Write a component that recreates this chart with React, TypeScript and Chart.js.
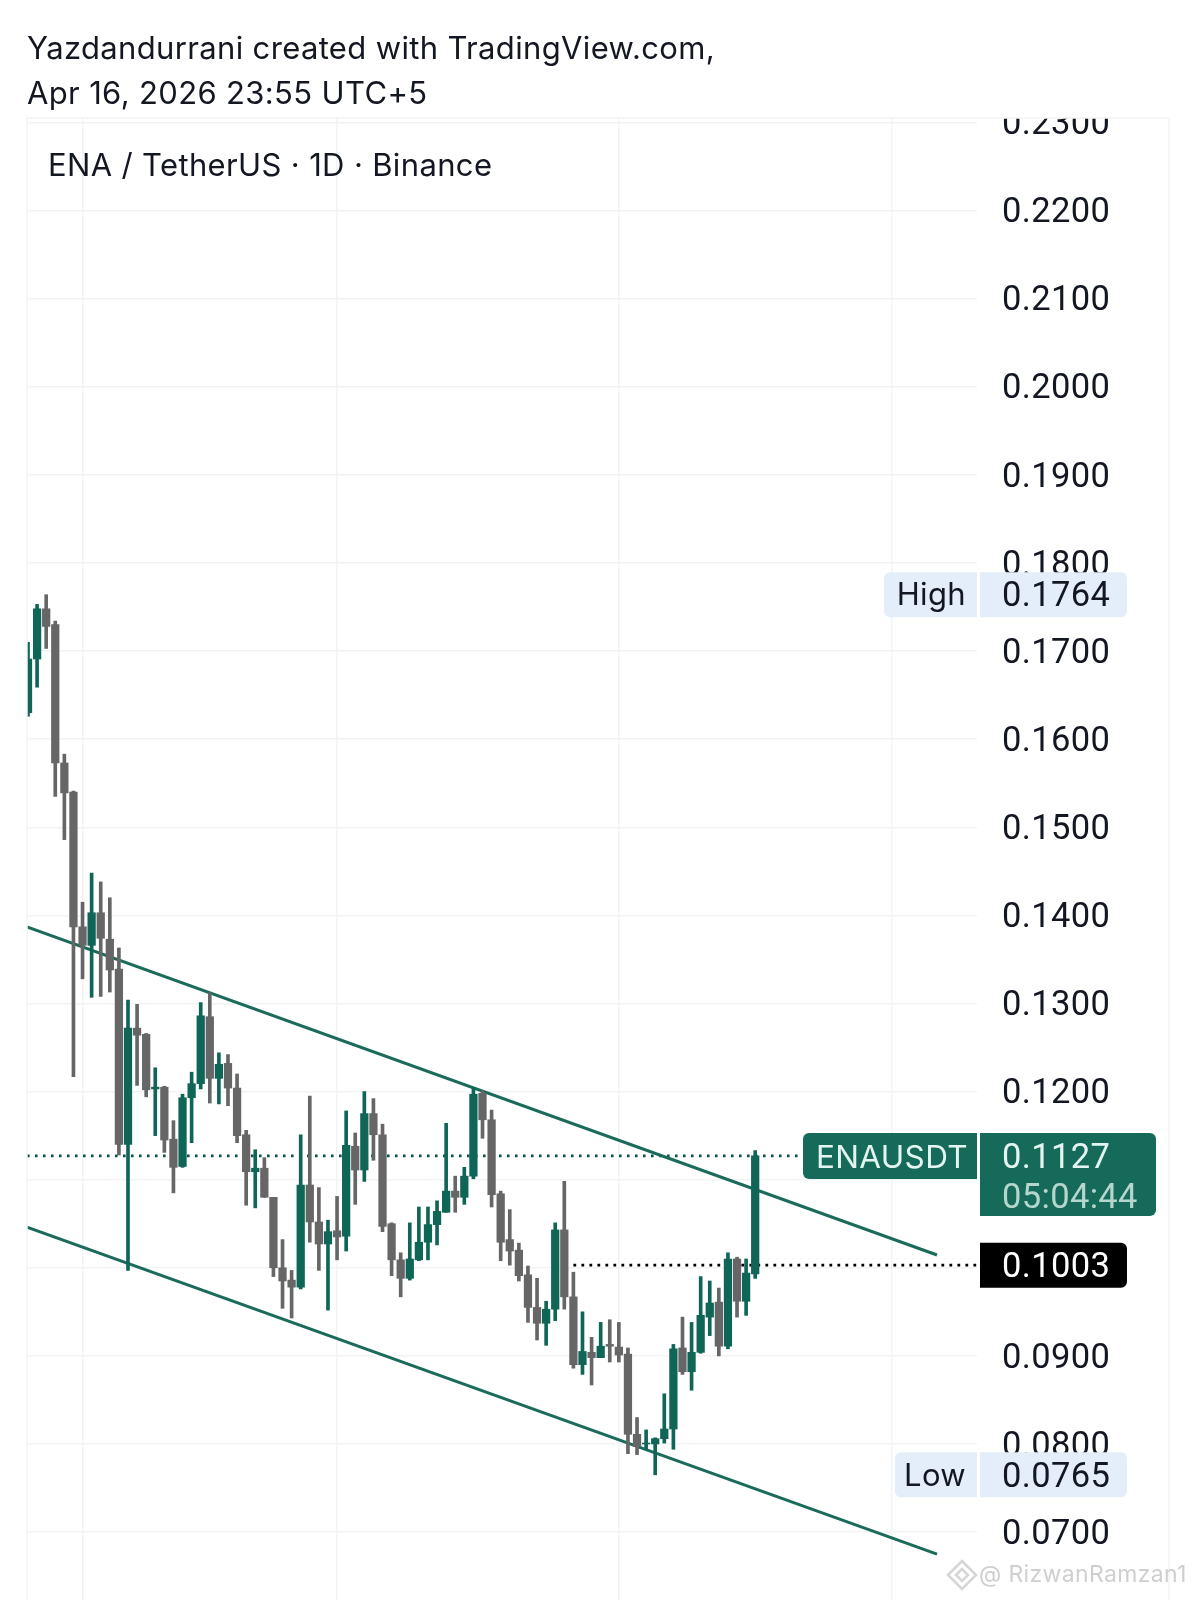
import React, { useEffect, useRef } from "react";
import { Chart, registerables } from "chart.js";

Chart.register(...registerables);

const titleLines = ["Yazdandurrani created with TradingView.com,", "Apr 16, 2026 23:55 UTC+5"];
const legendText = "ENA / TetherUS · 1D · Binance";
const watermarkText = "@ RizwanRamzan1";

// OHLC in units of 0.0001
const highs = [1710,1753,1764,1734,1583,1541,1415,1448,1438,1420,1363,1304,1299,1266,1227,1206,1167,1197,1222,1301,1312,1244,1242,1220,1156,1134,1125,1080,1032,997,1151,1195,1091,1054,1081,1178,1153,1200,1192,1163,1051,1017,1051,1069,1069,1076,1164,1104,1114,1204,1201,1179,1087,1066,1028,1002,988,962,1051,1098,995,950,921,938,941,938,909,830,816,807,857,913,944,938,990,985,977,1017,1012,1010,1133];
const lows = [1626,1659,1703,1535,1486,1217,1328,1307,1308,1313,1128,997,1207,1194,1150,1131,1085,1114,1142,1203,1187,1186,1184,1142,1071,1068,1080,990,954,943,976,1029,997,952,1009,1019,1072,1098,1122,1041,991,967,986,1008,1009,1026,1063,1063,1072,1101,1147,1069,1008,1003,985,938,918,912,940,953,886,879,867,898,893,893,789,788,794,765,801,794,879,861,903,923,900,908,944,946,988];
const opens = [1630,1691,1748,1730,1573,1540,1387,1366,1403,1373,1339,1140,1272,1265,1203,1205,1146,1115,1193,1209,1285,1215,1232,1204,1151,1109,1113,1080,1000,986,978,1094,1052,1027,1042,1036,1138,1111,1175,1151,1050,1009,988,1009,1029,1049,1063,1087,1080,1104,1198,1168,1084,1032,1020,992,955,937,953,1043,967,890,904,898,913,910,902,811,800,800,806,817,909,882,904,944,961,911,1010,962,993];
const closes = [1691,1748,1728,1573,1539,1387,1366,1403,1374,1338,1140,1272,1264,1202,1205,1145,1114,1193,1209,1286,1215,1231,1204,1150,1109,1113,1080,1000,985,978,1094,1052,1027,1041,1035,1139,1111,1175,1151,1047,1009,988,1010,1029,1049,1064,1087,1080,1104,1197,1168,1083,1029,1019,991,955,937,953,1043,967,890,905,898,911,911,901,811,797,801,806,817,908,882,904,946,960,911,1010,962,994,1127];

const yTicks = [0.07,0.08,0.09,0.1,0.11,0.12,0.13,0.14,0.15,0.16,0.17,0.18,0.19,0.2,0.21,0.22,0.23];
const xGridBars = [6.05, 34, 65, 95];
const yMin = 0.06229;
const yMax = 0.23051;
const xMin = -0.11;
const xMax = 104.4;

const upperTrendX = [-0.11, 100];
const upperTrendY = [0.1387, 0.10145];
const lowerTrendX = [-0.11, 100];
const lowerTrendY = [0.1046, 0.0675];

const lastPrice = 0.1127;
const lastPriceLineX = [-0.11, 84.8];
const prevClose = 0.1003;
const prevCloseLineX = [60, 104.4];
const highValue = 0.1764;
const lowValue = 0.0765;
const countdown = "05:04:44";
const symbolName = "ENAUSDT";

const GREEN = "#0f6656";
const GREY = "#666666";
const LINE_GREEN = "#1b6b5b";
const GRID = "#f2f3f4";
const BADGE_BLUE = "#e3eefa";
const FONT = "Inter, 'Liberation Sans', sans-serif";
const NUM_FONT = "Roboto, 'Liberation Sans', sans-serif";
const NUM_SIZE = 34.5;

function roundBox(ctx: CanvasRenderingContext2D, x: number, y: number, w: number, h: number, r: number[], fill: string) {
  ctx.beginPath();
  ctx.roundRect(x, y, w, h, r);
  ctx.fillStyle = fill;
  ctx.fill();
}

function label(ctx: CanvasRenderingContext2D, s: string, x: number, y: number, color: string, size = 31, align: CanvasTextAlign = "left", family = FONT) {
  ctx.font = `${size}px ${family}`;
  ctx.fillStyle = color;
  ctx.textAlign = align;
  ctx.textBaseline = "middle";
  ctx.fillText(s, x, y);
}

function num(ctx: CanvasRenderingContext2D, s: string, y: number, color: string) {
  label(ctx, s, 1002, y, color, NUM_SIZE, "left", NUM_FONT);
}

const overlayPlugin = {
  id: "overlay",
  beforeDraw(chart: any) {
    (chart.ctx as any).letterSpacing = "0.35px";
  },
  afterDraw(chart: any) {
    const ctx: CanvasRenderingContext2D = chart.ctx;
    const y = chart.scales.y;
    ctx.save();
    // clip the topmost price label at the frame, and draw the frame
    ctx.fillStyle = "#ffffff";
    ctx.fillRect(980, 100, 188, 18);
    ctx.strokeStyle = GRID;
    ctx.lineWidth = 1.5;
    ctx.beginPath();
    ctx.moveTo(27, 1600);
    ctx.lineTo(27, 118);
    ctx.lineTo(1169, 118);
    ctx.lineTo(1169, 1600);
    ctx.stroke();

    label(ctx, legendText, 48, 167, "#131722", 31);

    // High
    const hy = y.getPixelForValue(highValue);
    roundBox(ctx, 884, hy - 22.5, 93, 45, [6, 0, 0, 6], BADGE_BLUE);
    roundBox(ctx, 980, hy - 22.5, 147, 45, [0, 6, 6, 0], BADGE_BLUE);
    label(ctx, "High", 966, hy + 1, "#131722", 31, "right");
    num(ctx, highValue.toFixed(4), hy + 3, "#131722");

    // Low
    const ly = y.getPixelForValue(lowValue);
    roundBox(ctx, 895, ly - 22.5, 82, 45, [6, 0, 0, 6], BADGE_BLUE);
    roundBox(ctx, 980, ly - 22.5, 147, 45, [0, 6, 6, 0], BADGE_BLUE);
    label(ctx, "Low", 966, ly + 2, "#131722", 31, "right");
    num(ctx, lowValue.toFixed(4), ly + 4, "#131722");

    // Last price
    const py = y.getPixelForValue(lastPrice);
    roundBox(ctx, 803, py - 23, 174, 46, [6, 0, 0, 6], "#166a5a");
    roundBox(ctx, 980, py - 23, 176, 83, [0, 6, 6, 0], "#166a5a");
    label(ctx, symbolName, 816, py + 2.5, "#e4f5f1", 31.5);
    num(ctx, lastPrice.toFixed(4), py + 3.5, "#e4f5f1");
    num(ctx, countdown, py + 43, "#b4d6cd");

    // Previous close
    const cy = y.getPixelForValue(prevClose);
    roundBox(ctx, 980, cy - 22.5, 147, 45, [0, 6, 6, 0], "#000000");
    num(ctx, prevClose.toFixed(4), cy + 3, "#ffffff");

    // Watermark
    ctx.strokeStyle = "#d6d6d6";
    ctx.lineWidth = 2.5;
    const wx = 962, wy = 1575;
    ctx.beginPath();
    ctx.moveTo(wx - 14, wy);
    ctx.lineTo(wx - 7, wy - 7);
    ctx.lineTo(wx, wy - 14);
    ctx.lineTo(wx + 7, wy - 7);
    ctx.lineTo(wx + 14, wy);
    ctx.lineTo(wx, wy + 14);
    ctx.closePath();
    ctx.moveTo(wx - 6, wy);
    ctx.lineTo(wx, wy - 6);
    ctx.lineTo(wx + 6, wy);
    ctx.lineTo(wx, wy + 6);
    ctx.closePath();
    ctx.stroke();
    label(ctx, watermarkText, 979, 1575, "#cfcfcf", 23);
    ctx.restore();
  },
};

export default function App() {
  const ref = useRef<HTMLCanvasElement | null>(null);
  useEffect(() => {
    if (!ref.current) return;
    const idx = highs.map((_, i) => i);
    const candleColor = (c: any) => (closes[c.dataIndex] >= opens[c.dataIndex] ? GREEN : GREY);
    const pts = (xs: number[], ys: number[]) => xs.map((x, i) => ({ x, y: ys[i] }));
    const lineBase = { type: "line", pointRadius: 0, fill: false, tension: 0 };
    const chart = new Chart(ref.current, {
      type: "bar",
      data: {
        datasets: [
          { ...lineBase, label: "Upper channel", data: pts(upperTrendX, upperTrendY), borderColor: LINE_GREEN, borderWidth: 3, order: 5 },
          { ...lineBase, label: "Lower channel", data: pts(lowerTrendX, lowerTrendY), borderColor: LINE_GREEN, borderWidth: 3, order: 5 },
          { ...lineBase, label: "Last price", data: pts(lastPriceLineX, [lastPrice, lastPrice]), borderColor: "#0b5346", borderWidth: 2.6, borderDash: [2.6, 5.4], order: 6 },
          { ...lineBase, label: "Previous close", data: pts(prevCloseLineX, [prevClose, prevClose]), borderColor: "#000000", borderWidth: 2.8, borderDash: [2.8, 5.2], order: 6 },
          {
            label: "Wick",
            data: idx.map((i) => ({ x: i, y: [lows[i] / 10000, highs[i] / 10000] })),
            backgroundColor: candleColor,
            barThickness: 3,
            grouped: false,
            order: 2,
          },
          {
            label: "Body",
            data: idx.map((i) => ({ x: i, y: [opens[i] / 10000, closes[i] / 10000] })),
            backgroundColor: candleColor,
            barThickness: 7.6,
            grouped: false,
            order: 1,
          },
        ] as any,
      },
      options: {
        responsive: false,
        animation: false,
        devicePixelRatio: 1,
        layout: { padding: { left: 27, right: 0, top: 0, bottom: 0 } },
        plugins: {
          legend: { display: false },
          tooltip: { enabled: false },
          title: {
            display: true,
            text: titleLines,
            align: "start",
            color: "#131722",
            font: { family: FONT, size: 31, weight: "normal", lineHeight: 1.47 },
            padding: { top: 26.5, bottom: 0.36 },
          },
        },
        scales: {
          x: {
            type: "linear",
            min: xMin,
            max: xMax,
            offset: false,
            afterBuildTicks: (s: any) => {
              s.ticks = xGridBars.map((value) => ({ value }));
            },
            afterFit: (s: any) => {
              s.height = 0;
              s.paddingLeft = 0;
              s.paddingRight = 0;
            },
            ticks: { display: false },
            border: { display: false },
            grid: { color: GRID, lineWidth: 1.5, drawTicks: false, offset: false },
          },
          y: {
            type: "linear",
            position: "right",
            min: yMin,
            max: yMax,
            afterBuildTicks: (s: any) => {
              s.ticks = yTicks.map((value) => ({ value }));
            },
            afterFit: (s: any) => {
              s.width = 219;
              s.paddingTop = 0;
              s.paddingBottom = 0;
            },
            border: { display: false },
            grid: { color: GRID, lineWidth: 1.5, drawTicks: false },
            ticks: {
              padding: 25,
              labelOffset: 3,
              autoSkip: false,
              color: "#131722",
              font: { family: NUM_FONT, size: NUM_SIZE },
              callback: (v: any) => Number(v).toFixed(4),
            },
          },
        },
      } as any,
      plugins: [overlayPlugin as any],
    });
    return () => chart.destroy();
  }, []);
  return (
    <div style={{ position: "absolute", left: 0, top: 0, width: 1196, height: 1600, background: "#fff", overflow: "hidden" }}>
      <canvas ref={ref} width={1196} height={1600} style={{ display: "block", width: 1196, height: 1600 }} />
    </div>
  );
}
